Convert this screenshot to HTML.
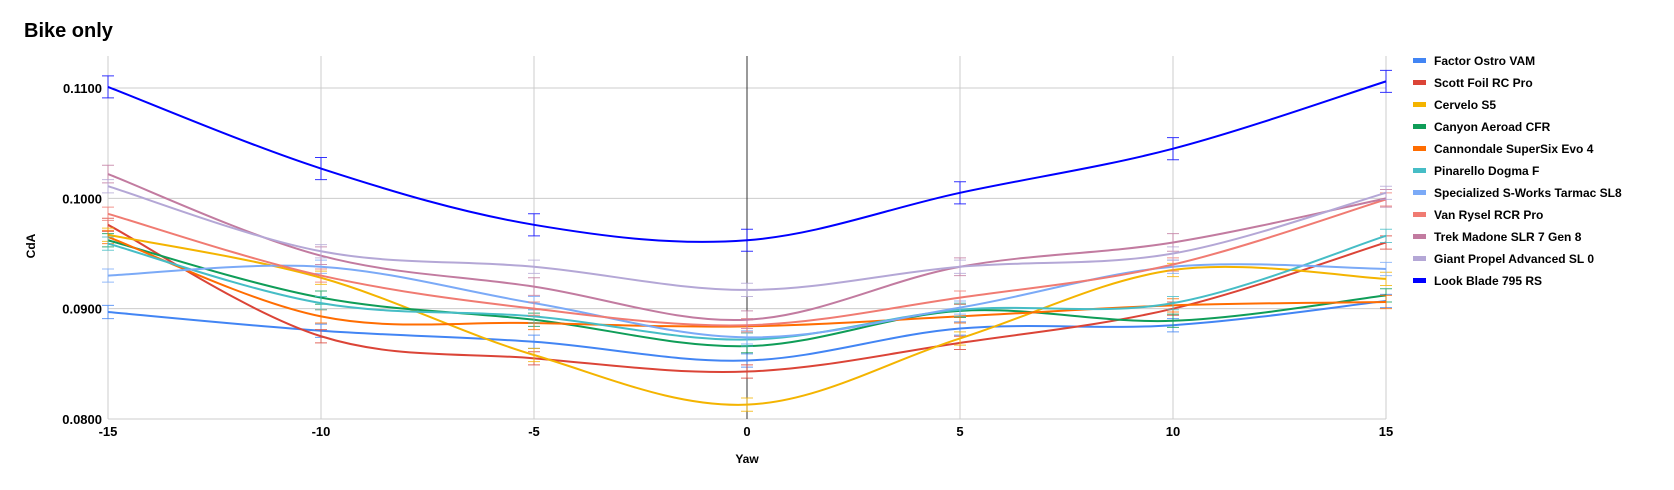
<!DOCTYPE html>
<html><head><meta charset="utf-8"><style>
body{margin:0;background:#fff;font-family:"Liberation Sans",Arial,sans-serif}
svg text{font-family:"Liberation Sans",Arial,sans-serif;font-weight:bold}
</style></head><body>
<svg id="c" width="1674" height="485">
<text x="24" y="37" font-size="20">Bike only</text>
<text transform="translate(35,246) rotate(-90)" text-anchor="middle" font-size="12">CdA</text>
<text x="747" y="463" text-anchor="middle" font-size="12">Yaw</text>
<g id="grid"></g><g id="series"></g><g id="legend"></g>
</svg>
<script>
const yaws=[-15,-10,-5,0,5,10,15];
const yTicks=[0.08,0.09,0.10,0.11];
const yTickLabels=["0.0800","0.0900","0.1000","0.1100"];
const names=["Factor Ostro VAM","Scott Foil RC Pro","Cervelo S5","Canyon Aeroad CFR","Cannondale SuperSix Evo 4","Pinarello Dogma F","Specialized S-Works Tarmac SL8","Van Rysel RCR Pro","Trek Madone SLR 7 Gen 8","Giant Propel Advanced SL 0","Look Blade 795 RS"];
const colors=["#4285f4","#db4437","#f4b400","#0f9d58","#ff6d01","#46bdc6","#7baaf7","#f07b72","#c27ba0","#b4a7d6","#0000ff"];
const sFactor=[0.0897,0.0880,0.0870,0.0853,0.0882,0.0885,0.0907];
const sScott=[0.0976,0.0875,0.0855,0.0843,0.0869,0.0900,0.0960];
const sCervelo=[0.0967,0.0928,0.0858,0.0813,0.0873,0.0935,0.0927];
const sCanyon=[0.0962,0.0910,0.0890,0.0866,0.0898,0.0889,0.0912];
const sCannondale=[0.0965,0.0893,0.0887,0.0884,0.0893,0.0903,0.0906];
const sPinarello=[0.0959,0.0905,0.0893,0.0872,0.0899,0.0905,0.0966];
const sSpecialized=[0.0930,0.0938,0.0905,0.0874,0.0901,0.0938,0.0936];
const sVanRysel=[0.0986,0.0930,0.0900,0.0885,0.0910,0.0940,0.0999];
const sTrek=[0.1022,0.0948,0.0920,0.0890,0.0938,0.0960,0.1000];
const sGiant=[0.1011,0.0952,0.0938,0.0917,0.0938,0.0950,0.1005];
const sLook=[0.1101,0.1027,0.0976,0.0962,0.1005,0.1045,0.1106];
const errs=[0.0006,0.0006,0.0006,0.0006,0.0006,0.0006,0.0006,0.0006,0.0008,0.0006,0.001];
const series=[sFactor,sScott,sCervelo,sCanyon,sCannondale,sPinarello,sSpecialized,sVanRysel,sTrek,sGiant,sLook];
const NS="http://www.w3.org/2000/svg";
const X0=108,X1=1386,Y0=419,Y1=88;
const xs=v=>X0+(v+15)/30*(X1-X0);
const ys=v=>Y0-(v-0.08)/0.03*(Y0-Y1);
function mk(t,a,p){const e=document.createElementNS(NS,t);for(const k in a)e.setAttribute(k,a[k]);p.appendChild(e);return e;}
const grid=document.getElementById('grid');
yTicks.forEach((t,i)=>{
 const l=mk('line',{x1:X0,x2:X1,y1:ys(t),y2:ys(t),stroke:'#ccc','stroke-width':1},grid);
 
 
 const tx=mk('text',{x:X0-6,y:ys(t)+5,'text-anchor':'end','font-size':13},grid);tx.textContent=yTickLabels[i];
 
 
});
yaws.forEach(v=>{
 const l=mk('line',{x1:xs(v),x2:xs(v),y1:56,y2:Y0,stroke:v===0?'#333':'#ccc','stroke-width':1},grid);
 
 
 const tx=mk('text',{x:xs(v),y:436,'text-anchor':'middle','font-size':13},grid);tx.textContent=String(v);
 
 
});
function path(pts){let d=`M${pts[0][0]},${pts[0][1]}`;const k=0.17;
 for(let i=0;i<pts.length-1;i++){const p0=pts[i-1]||pts[i],p1=pts[i],p2=pts[i+1],p3=pts[i+2]||p2;
 d+=` C${p1[0]+(p2[0]-p0[0])*k},${p1[1]+(p2[1]-p0[1])*k} ${p2[0]-(p3[0]-p1[0])*k},${p2[1]-(p3[1]-p1[1])*k} ${p2[0]},${p2[1]}`;}return d;}
const sg=document.getElementById('series');
series.forEach((s,i)=>{
 const g=mk('g',{},sg);
 
 
 s.forEach((v,j)=>{const x=xs(yaws[j]),a=ys(v+errs[i]),b=ys(v-errs[i]);
  const e=mk('path',{d:`M${x},${a}V${b}M${x-6},${a}H${x+6}M${x-6},${b}H${x+6}`,stroke:colors[i],'stroke-width':1,fill:'none',opacity:0.8},g);
  
  });
 const p=mk('path',{d:path(s.map((v,j)=>[xs(yaws[j]),ys(v)])),stroke:colors[i],'stroke-width':2,fill:'none'},g);
 
 
});
const lg=document.getElementById('legend');
names.forEach((n,i)=>{const y=61+i*22;
 const g=mk('g',{},lg);
 
 
 mk('rect',{x:1413,y:y-3,width:13,height:5,fill:colors[i]},g);
 const t=mk('text',{x:1434,y:y+4,'font-size':12},g);t.textContent=n;});
</script>
</body></html>
